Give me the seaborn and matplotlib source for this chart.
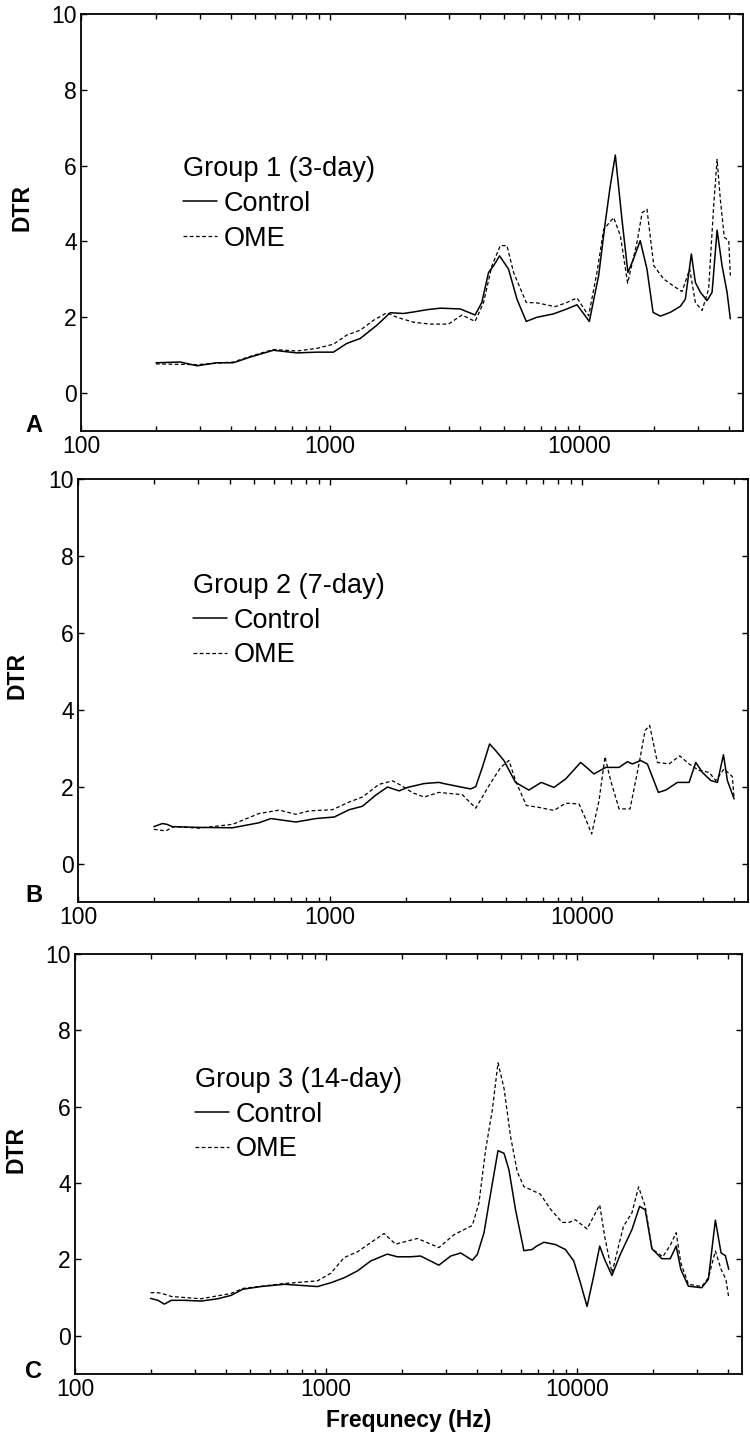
import matplotlib
matplotlib.use("Agg")
import matplotlib.pyplot as plt
import numpy as np
import pandas as pd
import seaborn as sns
from matplotlib.ticker import NullFormatter, FixedLocator

sns.set_theme(style="ticks")
plt.rcParams['font.family'] = ['Liberation Sans', 'DejaVu Sans']
plt.rcParams['text.color'] = 'black'
plt.rcParams['axes.labelcolor'] = 'black'

# ---- data (frequency in Hz, DTR) ----
# Group 1 (3-day)
g1_ctrl_f = [200, 250, 292, 351, 409, 478, 592, 735, 885, 1031, 1166, 1320, 1540, 1742, 1971, 2162, 2446,
             2767, 3326, 3818, 4062, 4322, 4529, 4786, 5200, 5620, 6125, 6760, 7886, 8920, 9790, 10970,
             11960, 12710, 13310, 13950, 14830, 15670, 16510, 17560, 18690, 19770, 21150, 23190, 25450,
             26650, 28170, 29230, 30620, 32570, 34120, 35730, 37410, 39180, 40380]
g1_ctrl_v = [0.80, 0.82, 0.72, 0.80, 0.80, 0.95, 1.13, 1.06, 1.08, 1.08, 1.31, 1.44, 1.79, 2.12, 2.10, 2.14, 2.20,
             2.24, 2.22, 2.06, 2.39, 3.18, 3.36, 3.62, 3.27, 2.48, 1.89, 2.00, 2.09, 2.22, 2.33, 1.89,
             3.10, 4.50, 5.46, 6.28, 4.59, 3.18, 3.54, 4.02, 3.27, 2.13, 2.03, 2.13, 2.29,
             2.48, 3.67, 2.92, 2.66, 2.44, 2.66, 4.30, 3.36, 2.66, 1.96]
g1_ome_f = [200, 292, 409, 478, 592, 735, 885, 1031, 1166, 1320, 1493, 1690, 1854, 2162, 2523, 2985, 3380,
            3818, 4128, 4460, 4820, 5124, 5449, 6125, 6760, 8010, 8920, 9790, 10900, 11770, 12530, 13740,
            14620, 15630, 17050, 17870, 18690, 19910, 21810, 23930, 25850, 27740, 29230, 31110, 33050,
            34620, 35730, 36820, 38190, 39800, 40380]
g1_ome_v = [0.77, 0.75, 0.82, 0.97, 1.15, 1.11, 1.18, 1.29, 1.53, 1.66, 1.92, 2.12, 2.00, 1.87, 1.82, 1.82, 2.06,
            1.89, 2.39, 3.36, 3.89, 3.89, 3.18, 2.39, 2.38, 2.28, 2.39, 2.51, 2.04, 3.18, 4.32, 4.63,
            4.15, 2.90, 3.98, 4.76, 4.85, 3.36, 3.01, 2.82, 2.68, 3.27, 2.39, 2.18, 2.75,
            4.94, 6.16, 5.11, 4.11, 4.02, 3.10]

# Group 2 (7-day)
g2_ctrl_f = [200, 216, 225, 237, 302, 410, 522, 582, 731, 878, 1038, 1190, 1343, 1517, 1688, 1878, 2027,
             2360, 2698, 2870, 3244, 3609, 3779, 4012, 4289, 4529, 4887, 5435, 6138, 6871, 7720, 8590,
             9850, 10310, 11120, 12380, 13990, 15100, 15790, 17030, 18110, 20030, 21420, 23840, 26510,
             28180, 29940, 32290, 34330, 36290, 37600, 39990]
g2_ctrl_v = [0.96, 1.04, 1.02, 0.96, 0.94, 0.93, 1.06, 1.17, 1.08, 1.17, 1.21, 1.40, 1.49, 1.78, 1.99, 1.89, 1.98,
             2.08, 2.11, 2.07, 2.00, 1.94, 2.00, 2.50, 3.11, 2.94, 2.68, 2.11, 1.91, 2.11, 1.98, 2.20,
             2.63, 2.52, 2.33, 2.50, 2.50, 2.65, 2.59, 2.68, 2.59, 1.85, 1.91, 2.11, 2.11,
             2.63, 2.37, 2.16, 2.11, 2.83, 2.16, 1.68]
g2_ome_f = [200, 223, 240, 302, 410, 522, 628, 731, 826, 1021, 1190, 1343, 1563, 1771, 1938, 2122, 2360,
            2698, 3344, 3779, 4266, 4745, 5117, 5435, 5995, 6731, 7720, 8590, 9700, 10310, 10890, 11650,
            12300, 12950, 13990, 15460, 16780, 17740, 18500, 19850, 22080, 24340, 26510, 29040, 31830,
            33830, 36480, 39350, 39990]
g2_ome_v = [0.89, 0.85, 0.96, 0.92, 1.02, 1.30, 1.39, 1.28, 1.37, 1.40, 1.60, 1.73, 2.06, 2.15, 2.01, 1.84, 1.73,
            1.85, 1.79, 1.44, 2.03, 2.50, 2.68, 2.16, 1.51, 1.46, 1.38, 1.57, 1.55, 1.16, 0.77, 1.64,
            2.78, 2.16, 1.42, 1.42, 2.59, 3.46, 3.59, 2.63, 2.59, 2.80, 2.59, 2.42, 2.37,
            2.16, 2.46, 2.26, 1.68]

# Group 3 (14-day)
g3_ctrl_f = [200, 214, 227, 242, 273, 318, 370, 419, 466, 550, 682, 795, 925, 1045, 1181, 1334, 1506, 1754,
             1923, 2173, 2381, 2815, 3140, 3438, 3826, 4006, 4259, 4528, 4843, 5118, 5353, 5688, 6140,
             6626, 6900, 7376, 8205, 8989, 9700, 10310, 10960, 11650, 12310, 12880, 13770, 14860, 16540,
             17750, 18690, 19870, 21770, 23500, 24830, 25900, 27770, 31390, 33350, 35560, 37470, 38980, 40200]
g3_ctrl_v = [0.98, 0.93, 0.83, 0.93, 0.93, 0.91, 0.97, 1.06, 1.22, 1.29, 1.35, 1.32, 1.29, 1.39, 1.52, 1.70, 1.96, 2.14,
             2.07, 2.07, 2.09, 1.85, 2.09, 2.17, 1.98, 2.13, 2.70, 3.74, 4.85, 4.78, 4.35, 3.30, 2.23,
             2.26, 2.35, 2.45, 2.39, 2.26, 1.96, 1.39, 0.77, 1.57, 2.35, 2.00, 1.58, 2.13, 2.78,
             3.39, 3.30, 2.28, 2.02, 2.02, 2.35, 1.74, 1.30, 1.26, 1.48, 3.03, 2.17, 2.10, 1.74]
g3_ome_f = [200, 214, 227, 242, 318, 419, 466, 682, 925, 1045, 1181, 1334, 1506, 1703, 1892, 2311, 2815,
            3236, 3826, 4066, 4322, 4595, 4843, 5118, 5433, 5776, 6140, 6530, 7140, 7830, 8720, 9300,
            9850, 10960, 12310, 12880, 13770, 15310, 16540, 17580, 18690, 19870, 21960, 23500, 24830,
            25900, 27770, 31390, 33350, 35560, 37470, 39180, 40200]
g3_ome_v = [1.13, 1.13, 1.09, 1.03, 0.97, 1.11, 1.24, 1.37, 1.44, 1.64, 2.05, 2.20, 2.44, 2.68, 2.40, 2.55, 2.31,
            2.65, 2.89, 3.48, 4.87, 5.91, 7.15, 6.48, 5.22, 4.30, 3.91, 3.83, 3.71, 3.32, 2.97, 2.97,
            3.04, 2.80, 3.43, 2.61, 1.65, 2.87, 3.22, 3.90, 3.39, 2.28, 2.07, 2.37, 2.70,
            1.91, 1.35, 1.29, 1.52, 2.22, 1.74, 1.48, 1.00]

group_titles = ['Group 1 (3-day)', 'Group 2 (7-day)', 'Group 3 (14-day)']
panel_letters = ['A', 'B', 'C']
series_labels = ['Control', 'OME']
x_ticks = [100, 1000, 10000]
x_ticklabels = ['100', '1000', '10000']
y_ticks = [0, 2, 4, 6, 8, 10]

groups = [(g1_ctrl_f, g1_ctrl_v, g1_ome_f, g1_ome_v),
          (g2_ctrl_f, g2_ctrl_v, g2_ome_f, g2_ome_v),
          (g3_ctrl_f, g3_ctrl_v, g3_ome_f, g3_ome_v)]

# axes rectangles in pixels (left, top, right, bottom), legend anchors / ylabel x (axes fraction)
W, H = 750, 1441
boxes = [(81, 14, 743, 431), (78, 479, 748, 902), (75, 954, 742, 1374)]
legend_anchor = [(0.154, 0.659), (0.172, 0.778), (0.1795, 0.731)]
ylabel_x = [-0.0725, -0.0746, -0.0705]
letter_pos = [(34, 425), (34, 895), (34, 1371)]

fig = plt.figure(figsize=(W / 100, H / 100), dpi=100)

for i, (cf, cv, of, ov) in enumerate(groups):
    l, t, r, b = boxes[i]
    ax = fig.add_axes([l / W, 1 - b / H, (r - l) / W, (b - t) / H])
    df_c = pd.DataFrame({'freq': cf, 'DTR': cv})
    df_o = pd.DataFrame({'freq': of, 'DTR': ov})
    sns.lineplot(data=df_c, x='freq', y='DTR', ax=ax, color='black', lw=1.1,
                 label=series_labels[0], sort=False, estimator=None)
    sns.lineplot(data=df_o, x='freq', y='DTR', ax=ax, color='black', lw=0.9,
                 label=series_labels[1], sort=False, estimator=None)
    ax.lines[1].set_dashes((3, 2))

    ax.set_xscale('log')
    ax.set_xlim(100, 45400)
    ax.set_ylim(-1, 10)
    ax.xaxis.set_major_locator(FixedLocator(x_ticks))
    ax.set_xticklabels(x_ticklabels)
    ax.xaxis.set_minor_formatter(NullFormatter())
    ax.set_yticks(y_ticks)
    ax.tick_params(axis='both', which='both', direction='in', top=True, right=True,
                   colors='black', labelsize=16.5, width=1.0)
    ax.tick_params(axis='both', which='major', length=4.5, pad=3)
    ax.tick_params(axis='x', which='minor', length=3.8)
    for s in ax.spines.values():
        s.set_linewidth(1.3)
        s.set_color('black')

    ax.set_ylabel('DTR', fontsize=16.5, fontweight='bold', color='black')
    ax.yaxis.set_label_coords(ylabel_x[i], 0.535)
    if i == 2:
        ax.set_xlabel('Frequnecy (Hz)', fontsize=16.5, fontweight='bold', color='black', labelpad=6)
    else:
        ax.set_xlabel('')

    leg = ax.legend(title=group_titles[i], loc='upper left', bbox_to_anchor=legend_anchor[i],
                    frameon=False, borderpad=0, borderaxespad=0, fontsize=19.5, title_fontsize=19.5,
                    handlelength=1.25, handletextpad=0.25, labelspacing=0.32, alignment='left')
    leg.get_title().set_color('black')
    for txt in leg.get_texts():
        txt.set_color('black')
    for ln in leg.get_lines():
        ln.set_color('black')

    fig.text(letter_pos[i][0] / W, 1 - letter_pos[i][1] / H, panel_letters[i],
             fontsize=17, fontweight='bold', ha='center', va='center', color='black')

plt.savefig('out.png', dpi=100)
